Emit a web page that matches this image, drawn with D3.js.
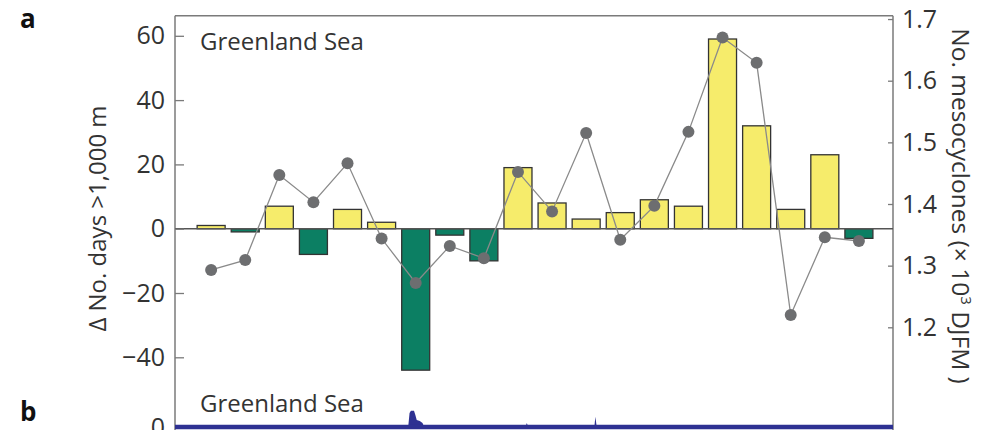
<!DOCTYPE html>
<html>
<head>
<meta charset="utf-8">
<script src="https://cdn.jsdelivr.net/npm/d3@7"></script>
<style>
  body { margin: 0; background: #fff; }
  svg { display: block; font-family: "Open Sans", "Noto Sans", sans-serif; }
</style>
</head>
<body>
<div id="chart"></div>
<script>
// winters 1..20 (no x labels in the figure)
const winters = d3.range(1, 21);
// change in no. of days with mixed layer >1,000 m (bars, left axis)
const deltaDays = [1, -1, 7, -8, 6, 2, -44, -2, -10, 19, 8, 3, 5, 9, 7, 59, 32, 6, 23, -3];
// no. of mesocyclones, x10^3 DJFM (points, right axis)
const mesocyclones = [1.293, 1.309, 1.447, 1.403, 1.466, 1.344, 1.272, 1.332, 1.312, 1.452,
                      1.388, 1.515, 1.342, 1.397, 1.517, 1.670, 1.629, 1.220, 1.346, 1.340];
const leftTicks = [-40, -20, 0, 20, 40, 60];
const rightTicks = [1.2, 1.3, 1.4, 1.5, 1.6, 1.7];

// panel b: [winter position, value] - only the start of the panel is visible
const bPos = [-0.06, 6.78, 6.82, 6.86, 6.95, 6.99, 7.03, 7.12, 7.2, 7.25, 10.22, 10.26, 10.3, 12.24, 12.27, 12.31, 21];
const bVal = [0, 0, 14, 16.3, 16.3, 12, 7, 6, 4, 0, 0, 4, 0, 0, 10.3, 0, 0];

const width = 995, height = 430;
const plotL = 175, plotR = 893, plotT = 15.7;

const svg = d3.select('#chart').append('svg')
    .attr('width', width)
    .attr('height', height);

// scales
const x = d3.scaleLinear().domain([-0.06, 21]).range([plotL, plotR]);
const y = d3.scaleLinear().domain([-40, 60]).range([357.3, 35.8]);
const y2 = d3.scaleLinear().domain([1.2, 1.6]).range([327.3, 80.7]);
const yb = d3.scaleLinear().domain([0, 20]).range([427, 407]);
const barW = 28;

// frame: top line and the two vertical axes running down into panel b
svg.append('line')
    .attr('x1', plotL).attr('x2', plotR).attr('y1', plotT).attr('y2', plotT)
    .attr('stroke', '#7a7a7a').attr('stroke-width', 1.5);
svg.append('line')
    .attr('x1', plotL).attr('x2', plotL).attr('y1', plotT).attr('y2', height)
    .attr('stroke', '#7a7a7a').attr('stroke-width', 1.5);
svg.append('line')
    .attr('x1', plotR).attr('x2', plotR).attr('y1', plotT).attr('y2', height)
    .attr('stroke', '#7a7a7a').attr('stroke-width', 1.5);

// bars
svg.selectAll('rect.bar')
    .data(deltaDays)
    .enter().append('rect')
    .attr('class', 'bar')
    .attr('x', (d, i) => x(winters[i]) - barW / 2)
    .attr('y', d => y(Math.max(d, 0)))
    .attr('width', barW)
    .attr('height', d => Math.abs(y(d) - y(0)))
    .attr('fill', d => d >= 0 ? '#f6ec6b' : '#0c7f63')
    .attr('stroke', '#333')
    .attr('stroke-width', 1.3);

// zero line
svg.append('line')
    .attr('x1', plotL).attr('x2', plotR).attr('y1', y(0)).attr('y2', y(0))
    .attr('stroke', '#555').attr('stroke-width', 1.4);

// mesocyclone line + dots
const line = d3.line()
    .x((d, i) => x(winters[i]))
    .y(d => y2(d));
svg.append('path')
    .datum(mesocyclones)
    .attr('d', line)
    .attr('fill', 'none')
    .attr('stroke', '#8a8a8a')
    .attr('stroke-width', 1.3);
svg.selectAll('circle.pt')
    .data(mesocyclones)
    .enter().append('circle')
    .attr('class', 'pt')
    .attr('cx', (d, i) => x(winters[i]))
    .attr('cy', d => y2(d))
    .attr('r', 6)
    .attr('fill', '#6d6e70');

// left axis
const gl = svg.append('g')
    .attr('transform', `translate(${plotL},0)`)
    .call(d3.axisLeft(y).tickValues(leftTicks).tickSize(-9).tickPadding(10)
        .tickFormat(d => d < 0 ? '\u2212' + Math.abs(d) : d));
gl.select('.domain').remove();
gl.selectAll('line').attr('stroke', '#7a7a7a').attr('stroke-width', 1.3);
gl.selectAll('text').attr('font-size', 25).attr('fill', '#333')
    .attr('font-family', '"Open Sans", sans-serif');

// right axis
const gr = svg.append('g')
    .attr('transform', `translate(${plotR},0)`)
    .call(d3.axisRight(y2).tickValues(rightTicks).tickSize(-5).tickPadding(9)
        .tickFormat(d3.format('.1f')));
gr.select('.domain').remove();
gr.selectAll('line').attr('stroke', '#7a7a7a').attr('stroke-width', 1.3);
gr.selectAll('text').attr('font-size', 25).attr('fill', '#333')
    .attr('font-family', '"Open Sans", sans-serif');

// panel b axis (only the zero tick shows)
const gb = svg.append('g')
    .attr('transform', `translate(${plotL},0)`)
    .call(d3.axisLeft(yb).tickValues([0]).tickSize(0).tickPadding(10));
gb.select('.domain').remove();
gb.selectAll('text').attr('font-size', 25).attr('fill', '#333')
    .attr('font-family', '"Open Sans", sans-serif');

// panel b series
const bData = bPos.map((p, i) => ({ p: p, v: bVal[i] }));
svg.append('path')
    .datum(bData)
    .attr('d', d3.area().x(d => x(d.p)).y0(yb(0)).y1(d => yb(d.v)))
    .attr('fill', '#2e3192');
svg.append('path')
    .datum(bData)
    .attr('d', d3.line().x(d => x(d.p)).y(yb(0)))
    .attr('stroke', '#2e3192')
    .attr('stroke-width', 4.5);

// axis titles
svg.append('text')
    .attr('transform', 'translate(106,218.5) rotate(-90)')
    .attr('text-anchor', 'middle')
    .attr('font-size', 24)
    .attr('fill', '#333')
    .text('\u0394 No. days >1,000 m');

const rt = svg.append('text')
    .attr('transform', 'translate(952,206) rotate(90)')
    .attr('text-anchor', 'middle')
    .attr('font-size', 24.5)
    .attr('fill', '#333');
rt.append('tspan').text('No. mesocyclones (\u00d7 10');
rt.append('tspan').attr('font-size', 15).attr('dy', -9).text('3');
rt.append('tspan').attr('dy', 9).text(' DJFM )');

// in-plot labels
svg.append('text')
    .attr('x', 200).attr('y', 50)
    .attr('font-size', 24).attr('fill', '#333')
    .text('Greenland Sea');
svg.append('text')
    .attr('x', 200).attr('y', 412)
    .attr('font-size', 24).attr('fill', '#333')
    .text('Greenland Sea');

// panel letters
svg.append('text')
    .attr('x', 20).attr('y', 28)
    .attr('font-size', 26).attr('font-weight', 'bold').attr('fill', '#111')
    .text('a');
svg.append('text')
    .attr('x', 20).attr('y', 421)
    .attr('font-size', 26).attr('font-weight', 'bold').attr('fill', '#111')
    .text('b');
</script>
</body>
</html>
